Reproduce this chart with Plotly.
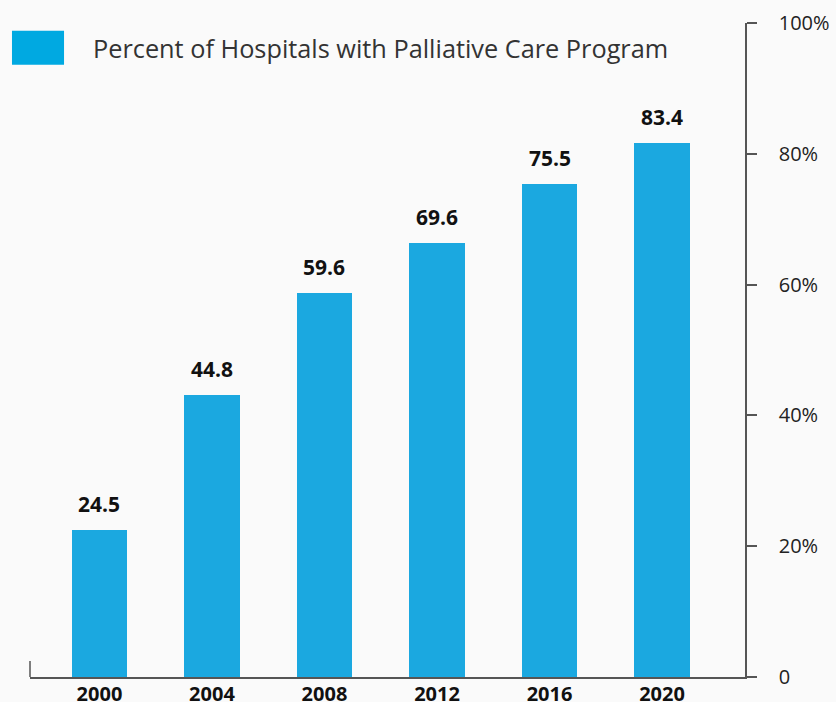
import plotly.graph_objects as go

years = [2000, 2004, 2008, 2012, 2016, 2020]
# bar heights as drawn in the reference
bar_heights = [22.5, 43.1, 58.7, 66.4, 75.4, 81.7]
# value labels as printed in the reference
value_labels = ["24.5", "44.8", "59.6", "69.6", "75.5", "83.4"]
year_labels = ["2000", "2004", "2008", "2012", "2016", "2020"]
y_ticks = [0, 20, 40, 60, 80, 100]
y_tick_labels = ["0", "20%", "40%", "60%", "80%", "100%"]
series_name = "Percent of Hospitals with Palliative Care Program"

BAR = "#1BA8E0"
AXIS = "#555555"
FONT = "'Open Sans', Lato, sans-serif"

fig = go.Figure()
fig.add_trace(go.Bar(
    x=years, y=bar_heights, width=1.96,
    marker=dict(color=BAR, line=dict(width=0)),
    name=series_name, showlegend=False, hoverinfo="skip",
))

for yr, h, lab in zip(years, bar_heights, value_labels):
    fig.add_annotation(
        x=yr, y=h, text="<b>" + lab + "</b>", showarrow=False,
        yanchor="bottom", yshift=10,
        font=dict(family=FONT, size=21, color="#111111"),
    )

# legend swatch + text
fig.add_shape(type="rect", xref="paper", yref="paper",
              x0=-0.0252, x1=0.0476, y0=0.936, y1=0.988,
              fillcolor="#00A9E1", line=dict(width=0), layer="above")
fig.add_annotation(xref="paper", yref="paper", x=0.0853, y=0.962,
                   xanchor="left", yanchor="middle", showarrow=False,
                   text=series_name,
                   font=dict(family=FONT, size=25.3, color="#333333"))

# small vertical tick at the left end of the baseline
fig.add_shape(type="line", xref="paper", yref="y",
              x0=0, x1=0, y0=0, y1=2.45,
              line=dict(color=AXIS, width=1.5))

fig.update_layout(
    width=836, height=702,
    margin=dict(l=30, r=91, t=23, b=25),
    paper_bgcolor="#FAFAFA", plot_bgcolor="#FAFAFA",
    bargap=0,
    font=dict(family=FONT),
)
fig.update_xaxes(
    range=[1997.53, 2022.95], automargin=False,
    tickvals=years, ticktext=["<b>" + t + "</b>" for t in year_labels],
    tickfont=dict(family=FONT, size=20, color="#111111"),
    showgrid=False, zeroline=False,
    showline=True, linecolor=AXIS, linewidth=1.5,
    ticks="", ticklabelstandoff=-2,
)
fig.update_yaxes(
    side="right", range=[0, 100], automargin=False,
    tickvals=y_ticks, ticktext=y_tick_labels,
    tickfont=dict(family=FONT, size=20, color="#222222"),
    showgrid=False, zeroline=False,
    showline=True, linecolor=AXIS, linewidth=1.5,
    ticks="outside", ticklen=10, tickcolor=AXIS, tickwidth=1.5,
    ticklabelstandoff=18,
)

fig.write_html(
    "out.html",
    config={"displayModeBar": False},
    post_script="document.body.style.margin='0';"
                "document.body.style.background='#FAFAFA';",
)
